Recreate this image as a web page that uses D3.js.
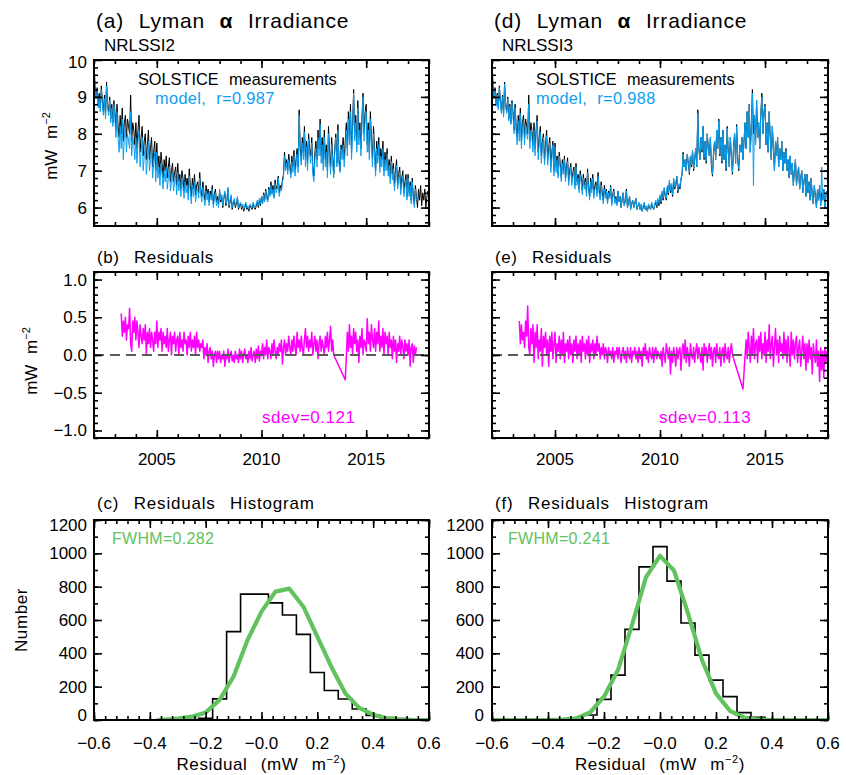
<!DOCTYPE html>
<html>
<head>
<meta charset="utf-8">
<script src="https://cdn.jsdelivr.net/npm/d3@7"></script>
<style>
  html, body { margin: 0; padding: 0; background: #fff; }
  svg { display: block; font-family: "Liberation Sans", Arial, sans-serif; }
</style>
</head>
<body>
<svg id="fig" width="846" height="775"></svg>
<script>
// ---------------- data ----------------
// daily series summarised on a 0.05-year grid; null marks a data gap
const yearStep = 0.05;
const yearStart = 2002.0;

// SOLSTICE Lyman-alpha irradiance (mW m^-2), 2002.00 .. 2018.00
const solstice = [
  9.95, 9.3, 9.0, 9.25, 8.8, 9.1, 8.7, 9.3, 8.9, 8.6, 9.05, 8.5, 9.4, 8.8, 8.6, 9.0, 8.4, 8.8, 8.3, 8.9,
  8.6, 8.1, 8.8, 8.2, 7.9, 8.5, 8.0, 8.7, 7.8, 8.3, 8.5, 7.9, 8.4, 8.2, 8.0, 9.05, 7.8, 8.3, 8.1, 7.7,
  8.3, 7.6, 8.1, 8.5, 7.5, 7.9, 8.2, 7.4, 7.8, 8.0, 7.3, 7.7, 8.1, 7.3, 7.6, 7.9, 7.1, 7.5, 7.8, 7.0,
  7.75, 7.1, 7.4, 6.9, 7.5, 7.2, 6.8, 7.3, 7.0, 7.4, 6.8, 7.1, 7.35, 6.7, 7.0, 7.2, 6.7, 6.95, 7.1, 6.6,
  7.2, 6.7, 6.9, 6.5, 7.0, 6.8, 6.45, 6.9, 6.6, 6.8, 6.4, 7.05, 6.6, 6.3, 6.8, 6.5, 6.9, 6.35, 6.6, 6.7,
  6.4, 6.95, 6.5, 6.3, 6.7, 6.4, 6.2, 6.6, 6.35, 6.5, 6.15, 6.45, 6.3, 6.6, 6.1, 6.35, 6.5, 6.15, 6.3, 6.1,
  6.45, 6.15, 6.3, 6.0, 6.25, 6.4, 6.05, 6.2, 6.5, 6.0, 6.15, 6.3, 5.95, 6.1, 6.2, 6.0, 6.1, 6.25, 5.95, 6.05,
  6.1, 5.95, 6.05, 5.9, 6.0, 6.1, 5.95, 6.0, 5.9, 6.05, 6.0, 5.95, 6.1, 6.0, 5.95, 6.05, 6.15, 6.0, 6.2, 6.05,
  6.3, 6.1, 6.4, 6.2, 6.5, 6.3, 6.2, 6.55, 6.35, 6.7, 6.4, 6.6, 6.3, 6.75, 6.5, 6.6, 6.85, 6.4, 6.6, 6.5,
  6.75, 6.9, 7.5, 7.1, 7.3, 7.0, 7.45, 7.2, 6.9, 7.4, 7.1, 7.55, 7.0, 7.3, 7.6, 7.1, 8.65, 7.6, 7.3, 7.9,
  7.5, 8.2, 7.3, 7.8, 7.2, 8.0, 7.6, 7.4, 7.9, 7.1, 6.85, 7.5, 7.8, 7.3, 8.1, 7.6, 8.4, 7.4, 7.9, 7.2,
  8.1, 7.3, 7.7, 7.0, 8.2, 7.5, 7.1, 7.9, 7.4, 6.9, 7.6, 8.0, 7.2, 8.25, 7.3, 7.0, 7.7, 7.5, 7.9, 7.3,
  7.8, 8.3, 7.6, 8.6, 7.9, 8.8, 7.5, 8.2, 9.2, 8.0, 8.5, 7.7, 8.9, 7.9, 8.3, 7.6, 8.5, 9.1, 8.0, 8.6,
  8.8, 7.7, 8.3, 7.5, 8.6, 7.9, 7.3, 8.2, 7.6, 7.0, 7.8, 7.4, 7.9, 7.1, 7.6, 7.3, 7.8, 7.0, 7.5, 7.2,
  7.6, 7.0, 7.3, 6.8, 7.4, 6.9, 7.2, 6.6, 7.0, 7.3, 6.6, 6.9, 7.1, 6.5, 6.8, 7.0, 6.4, 6.7, 6.9, 6.3,
  6.9, 6.4, 6.7, 6.2, 6.8, 6.3, 6.1, 6.6, 6.3, 6.0, 6.5, 6.2, 6.6, 6.05, 6.4, 6.2, 6.5, 6.0, 6.3, 6.45,
  6.2
];

// NRLSSI2 model, 2002.00 .. 2017.40
const modelNrl2 = [
  9.9, 9.2, 8.95, 9.15, 8.7, 9.0, 8.6, 9.2, 8.8, 8.5, 8.95, 8.4, 9.3, 8.7, 8.5, 8.9, 8.3, 8.7, 8.2, 8.8,
  8.4, 7.9, 8.6, 7.9, 7.5, 8.2, 7.6, 8.4, 7.3, 7.9, 8.2, 7.5, 8.0, 7.8, 7.6, 8.6, 7.4, 7.9, 7.7, 7.3,
  7.9, 7.2, 7.8, 8.1, 7.1, 7.5, 7.9, 7.0, 7.4, 7.7, 6.9, 7.3, 7.8, 7.0, 7.3, 7.6, 6.8, 7.2, 7.5, 6.7,
  7.5, 6.8, 7.1, 6.6, 7.2, 6.9, 6.5, 7.0, 6.7, 7.1, 6.5, 6.8, 7.1, 6.45, 6.7, 6.95, 6.45, 6.7, 6.85, 6.35,
  6.95, 6.45, 6.7, 6.3, 6.8, 6.55, 6.25, 6.7, 6.4, 6.6, 6.2, 6.85, 6.4, 6.1, 6.6, 6.3, 6.7, 6.15, 6.4, 6.5,
  6.25, 6.8, 6.35, 6.15, 6.55, 6.25, 6.05, 6.45, 6.2, 6.4, 6.05, 6.35, 6.2, 6.5, 6.0, 6.25, 6.4, 6.05, 6.2, 6.0,
  6.5, 6.2, 6.35, 6.05, 6.3, 6.45, 6.1, 6.25, 6.55, 6.05, 6.2, 6.35, 6.0, 6.15, 6.25, 6.05, 6.15, 6.3, 6.0, 6.1,
  6.15, 6.0, 6.1, 5.95, 6.05, 6.15, 6.0, 6.05, 5.95, 6.1, 6.05, 6.0, 6.15, 6.05, 6.0, 6.1, 6.2, 6.05, 6.25, 6.1,
  6.3, 6.1, 6.35, 6.15, 6.45, 6.25, 6.15, 6.5, 6.3, 6.6, 6.35, 6.5, 6.25, 6.65, 6.4, 6.5, 6.8, 6.3, 6.5, 6.45,
  6.7, 6.8, 7.4, 7.0, 7.2, 6.9, 7.3, 7.05, 6.8, 7.25, 6.95, 7.4, 6.85, 7.15, 7.45, 6.95, 8.5, 7.4, 7.15, 7.75,
  7.3, 8.05, 7.1, 7.65, 7.0, 7.85, 7.45, 7.2, 7.75, 6.9, 6.7, 7.3, 7.6, 7.1, 7.9, 7.4, 8.25, 7.2, 7.7, 7.0,
  7.9, 7.1, 7.5, 6.8, 8.0, 7.3, 6.9, 7.7, 7.2, 6.8, 7.5, 7.9, 7.1, 8.1, 7.2, 6.95, 7.6, 7.3, 7.7, 7.1,
  7.6, 8.1, 7.4, 8.4, 7.7, 8.6, 7.3, 8.0, 9.1, 7.8, 8.3, 7.5, 8.7, 7.7, 8.1, 7.4, 8.3, 9.0, 7.8, 8.4,
  8.6, 7.5, 8.1, 7.3, 8.4, 7.7, 7.1, 8.0, 7.4, 6.85, 7.6, 7.2, 7.7, 6.95, 7.4, 7.1, 7.6, 6.85, 7.3, 7.0,
  7.45, 6.85, 7.15, 6.65, 7.25, 6.75, 7.05, 6.45, 6.85, 7.15, 6.5, 6.75, 6.95, 6.35, 6.65, 6.85, 6.3, 6.55, 6.75, 6.2,
  6.8, 6.3, 6.6, 6.1, 6.7, 6.2, 6.0, 6.5, 6.2
];

// NRLSSI3 model, 2002.00 .. 2018.00
const modelNrl3 = [
  9.9, 9.25, 8.95, 9.2, 8.75, 9.05, 8.65, 9.25, 8.85, 8.55, 9.0, 8.45, 9.35, 8.75, 8.55, 8.95, 8.35, 8.75, 8.25, 8.85,
  8.5, 8.0, 8.7, 8.05, 7.7, 8.35, 7.8, 8.55, 7.6, 8.1, 8.35, 7.7, 8.25, 8.0, 7.85, 8.8, 7.6, 8.1, 7.95, 7.5,
  8.1, 7.4, 7.95, 8.35, 7.3, 7.75, 8.05, 7.2, 7.65, 7.9, 7.15, 7.55, 7.95, 7.15, 7.45, 7.75, 6.95, 7.35, 7.7, 6.85,
  7.65, 6.95, 7.3, 6.8, 7.4, 7.1, 6.7, 7.2, 6.9, 7.3, 6.7, 7.0, 7.25, 6.6, 6.9, 7.1, 6.6, 6.85, 7.0, 6.5,
  7.1, 6.6, 6.8, 6.4, 6.9, 6.7, 6.35, 6.8, 6.5, 6.7, 6.3, 6.95, 6.5, 6.2, 6.7, 6.4, 6.8, 6.25, 6.5, 6.6,
  6.3, 6.85, 6.4, 6.2, 6.6, 6.3, 6.1, 6.5, 6.25, 6.45, 6.1, 6.4, 6.25, 6.55, 6.05, 6.3, 6.45, 6.1, 6.25, 6.05,
  6.45, 6.15, 6.3, 6.0, 6.25, 6.4, 6.05, 6.2, 6.45, 6.0, 6.15, 6.3, 5.95, 6.1, 6.2, 6.0, 6.1, 6.25, 5.95, 6.05,
  6.15, 5.95, 6.1, 5.9, 6.05, 6.15, 5.95, 6.05, 5.9, 6.1, 6.05, 5.95, 6.15, 6.05, 5.95, 6.1, 6.2, 6.05, 6.25, 6.1,
  6.35, 6.15, 6.45, 6.25, 6.55, 6.35, 6.25, 6.6, 6.4, 6.75, 6.45, 6.65, 6.35, 6.8, 6.55, 6.65, 6.85, 6.45, 6.65, 6.55,
  6.8, 6.9, 7.45, 7.1, 7.3, 7.0, 7.45, 7.2, 6.95, 7.4, 7.15, 7.55, 7.05, 7.3, 7.6, 7.1, 8.55, 7.6, 7.3, 7.9,
  7.55, 8.2, 7.35, 7.8, 7.25, 8.0, 7.6, 7.4, 7.9, 7.15, 6.9, 7.5, 7.8, 7.3, 8.1, 7.6, 8.35, 7.45, 7.9, 7.25,
  8.1, 7.3, 7.7, 7.05, 8.15, 7.5, 7.1, 7.9, 7.4, 6.95, 7.6, 8.0, 7.2, 8.2, 7.3, 7.05, 7.7, 7.5, 7.9, 7.3,
  7.8, 8.3, 7.6, 8.6, 7.9, 8.8, 7.5, 8.2, 9.1, 6.6, 8.5, 7.7, 8.9, 7.9, 8.3, 7.6, 8.5, 9.0, 8.0, 8.6,
  8.75, 7.7, 8.3, 7.5, 8.6, 7.9, 7.3, 8.2, 7.6, 7.0, 7.8, 7.4, 7.9, 7.1, 7.6, 7.3, 7.8, 7.0, 7.5, 7.2,
  7.55, 7.0, 7.3, 6.8, 7.4, 6.9, 7.2, 6.6, 7.0, 7.3, 6.6, 6.9, 7.1, 6.5, 6.8, 7.0, 6.4, 6.7, 6.9, 6.3,
  6.9, 6.4, 6.7, 6.2, 6.8, 6.3, 6.1, 6.6, 6.3, 6.0, 6.5, 6.2, 6.6, 6.05, 7.1, 6.2, 6.5, 6.0, 6.3, 6.45,
  6.15
];

// residuals (measurement - model) on the same grid, starting at residStart
const residStart = 2003.3;
const residNrl2 = [
  0.55, 0.25, 0.45, 0.3, 0.5, 0.2, 0.4, 0.35, 0.62, 0.15, 0.05, 0.45, 0.3, 0.5,
  0.2, 0.45, 0.3, 0.1, 0.4, 0.25, 0.15, 0.35, 0.2, 0.4, 0.0, 0.3, 0.15, 0.35, 0.1, 0.3, 0.2, 0.05, 0.3, 0.15,
  0.45, 0.1, 0.3, 0.2, 0.35, 0.05, 0.3, 0.15, 0.25, 0.1, 0.35, 0.05, 0.2, 0.3, 0.0, 0.25, 0.15, 0.3, 0.05, 0.2,
  0.25, 0.0, 0.3, 0.1, 0.2, 0.05, 0.3, 0.15, 0.2, 0.0, 0.25, 0.1, 0.3, 0.05, 0.2, 0.1, 0.25, 0.0, 0.3, 0.1,
  0.2, 0.05, 0.15, 0.1, 0.2, -0.05, 0.1, 0.0, 0.15, -0.1, 0.05, 0.1, -0.05, 0.05, -0.15, 0.0, 0.05, -0.1, 0.05, -0.05,
  0.05, -0.1, 0.0, -0.05, 0.05, -0.15, 0.0, -0.05, 0.08, -0.1, 0.0, 0.05, -0.08, 0.0, -0.1, 0.05, -0.05, 0.0, -0.1, 0.08,
  -0.05, 0.05, -0.1, 0.0, 0.08, -0.05, 0.0, -0.1, 0.05, -0.05, 0.1, -0.08, 0.0, 0.05, -0.1, 0.08, -0.05, 0.12, -0.08, 0.05,
  0.0, 0.15, -0.05, 0.1, 0.0, 0.2, -0.05, 0.1, 0.05, -0.05, 0.15, 0.0, 0.2, 0.05, -0.05, 0.1, 0.0, 0.15, 0.05, 0.2,
  -0.12, 0.1, 0.2, 0.0, 0.15, 0.05, 0.25, 0.1, 0.0, 0.2, 0.05, 0.25, 0.1, 0.0, 0.3, 0.1, 0.2, 0.05, 0.25, 0.1,
  0.0, 0.2, 0.35, 0.1, 0.25, 0.05, 0.2, 0.1, 0.3, 0.0, 0.15, 0.25, 0.05, 0.2, -0.05, 0.15, 0.25, 0.05, 0.2, 0.1,
  0.0, 0.25, 0.1, 0.3, 0.05, 0.2, 0.38, 0.05, 0.2, 0.0, null, null, null, null, null, null, null, null, null, null,
  -0.33, -0.04, 0.3, 0.05, 0.4, 0.1, 0.25, 0.0, 0.35, 0.15, 0.3, 0.05, 0.2, -0.1, 0.25, 0.1, 0.35, 0.0, 0.2, 0.15,
  0.05, 0.48, 0.15, 0.3, 0.05, 0.4, 0.2, 0.1, 0.35, 0.05, 0.3, 0.15, 0.45, 0.05, 0.25, 0.1, 0.35, 0.0, 0.3, 0.15,
  0.25, 0.0, 0.3, 0.1, 0.2, -0.05, 0.25, 0.05, 0.2, -0.1, 0.15, 0.05, 0.25, 0.0, 0.2, 0.1, -0.05, 0.2, 0.05, 0.15,
  0.0, 0.2, -0.15, 0.1, 0.15, -0.1, 0.12, 0.0, 0.1
];
const residNrl3 = [
  0.45, 0.15, 0.4, 0.2, 0.3, 0.1, 0.45, 0.25, 0.65, 0.1, 0.0, 0.35, 0.15, 0.4,
  -0.1, 0.3, 0.1, 0.4, -0.05, 0.2, 0.05, 0.35, -0.15, 0.25, 0.1, 0.3, 0.0, 0.2, -0.15, 0.25, 0.05, 0.3, -0.05, 0.15,
  0.3, -0.1, 0.15, 0.05, 0.25, -0.05, 0.2, 0.0, 0.3, -0.1, 0.15, 0.05, 0.2, -0.05, 0.25, 0.0, 0.15, -0.1, 0.2, 0.05,
  0.25, -0.05, 0.15, 0.0, 0.2, -0.1, 0.25, 0.05, 0.15, -0.05, 0.2, 0.0, 0.25, -0.1, 0.15, 0.05, 0.2, -0.05, 0.15, 0.0,
  0.25, 0.05, 0.15, -0.05, 0.1, 0.0, 0.15, -0.05, 0.1, 0.05, -0.1, 0.1, 0.0, 0.05, -0.05, 0.1, -0.1, 0.05, 0.0, 0.1,
  -0.05, 0.1, 0.0, -0.1, 0.05, 0.1, -0.05, 0.05, -0.1, 0.1, 0.0, -0.05, 0.1, -0.1, 0.05, 0.0, 0.1, -0.05, 0.05, -0.1,
  0.1, -0.05, 0.05, -0.15, 0.1, 0.0, 0.15, -0.05, 0.05, -0.1, 0.1, 0.0, -0.05, 0.1, -0.1, 0.05, 0.1, -0.05, 0.05, 0.0,
  -0.05, 0.05, -0.15, 0.1, 0.0, -0.1, 0.15, 0.05, -0.05, 0.1, -0.25, 0.05, -0.1, 0.1, 0.0, -0.15, 0.1, -0.05, 0.05, 0.1,
  -0.2, 0.05, 0.15, -0.05, 0.2, -0.1, 0.1, 0.0, -0.15, 0.15, 0.0, -0.05, 0.1, -0.1, 0.05, 0.15, -0.05, 0.1, 0.0, -0.1,
  0.1, -0.2, 0.15, 0.0, 0.1, -0.1, 0.05, 0.15, -0.05, 0.1, -0.15, 0.05, 0.1, -0.1, 0.15, 0.0, -0.05, 0.1, -0.15, 0.05,
  0.1, -0.1, 0.15, 0.0, -0.05, 0.1, -0.1, 0.05, 0.15, 0.0, null, null, null, null, null, null, null, null, null, -0.45,
  null, null, 0.2, -0.05, 0.3, 0.1, -0.1, 0.25, 0.0, 0.35, -0.05, 0.15, 0.2, -0.1, 0.25, 0.05, 0.3, -0.05, 0.15, 0.0,
  0.3, -0.1, 0.2, 0.05, 0.4, -0.05, 0.15, 0.25, -0.15, 0.1, 0.35, 0.0, 0.2, -0.1, 0.25, 0.05, 0.15, -0.05, 0.3, 0.0,
  0.2, -0.1, 0.25, 0.05, -0.15, 0.3, 0.0, 0.2, -0.05, 0.15, 0.25, -0.1, 0.1, 0.2, -0.15, 0.05, 0.25, -0.05, 0.15, -0.2,
  0.15, -0.1, 0.2, -0.05, 0.1, -0.25, 0.15, 0.0, -0.1, 0.2, -0.15, 0.05, -0.35, 0.1, -0.2, 0.05, -0.3, 0.1, -0.1, 0.05,
  0.0
];

// residual histograms (bin width 0.05 mW m^-2)
const binCenters = [-0.30, -0.25, -0.20, -0.15, -0.10, -0.05, 0.00, 0.05, 0.10,
                    0.15, 0.20, 0.25, 0.30, 0.35, 0.40, 0.45, 0.50];
const histNrl2 = [0, 2, 10, 127, 530, 755, 755, 703, 630, 514, 285, 177, 126, 66, 28, 14, 8];
const histNrl3 = [3, 30, 124, 269, 544, 919, 1040, 833, 582, 389, 239, 140, 44, 16, 4, 0, 0];

// Gaussian fits to the histograms
const fitResid2 = [-0.37, -0.30, -0.25, -0.20, -0.15, -0.10, -0.05, 0.00, 0.05, 0.10,
                   0.15, 0.20, 0.25, 0.30, 0.35, 0.40, 0.45, 0.50, 0.55, 0.60];
const fitCount2 = [0, 8, 20, 45, 121, 261, 480, 650, 770, 788,
                   680, 500, 320, 160, 73, 32, 10, 3, 0, 0];
const fitResid3 = [-0.60, -0.50, -0.40, -0.35, -0.30, -0.25, -0.20, -0.15, -0.10, -0.05,
                   0.00, 0.05, 0.10, 0.15, 0.20, 0.25, 0.30, 0.35, 0.40, 0.50, 0.60];
const fitCount3 = [0, 0, 0, 2, 10, 45, 140, 300, 570, 857,
                   985, 897, 640, 360, 160, 55, 15, 3, 0, 0, 0];

// axis ticks and labels
const yearTicks = [2005, 2010, 2015];
const irrTicks = [6, 7, 8, 9, 10];
const residTicks = [-1.0, -0.5, 0.0, 0.5, 1.0];
const residTickLabels = ["\u22121.0", "\u22120.5", "0.0", "0.5", "1.0"];
const countTicks = [0, 200, 400, 600, 800, 1000, 1200];
const residualTicks = [-0.6, -0.4, -0.2, 0.0, 0.2, 0.4, 0.6];
const residualTickLabels = ["\u22120.6", "\u22120.4", "\u22120.2", "\u22120.0", "0.2", "0.4", "0.6"];

// ---------------- drawing ----------------
const svg = d3.select("#fig");
const BLUE = "#0aa0f2", MAGENTA = "#ff00ff", GREEN = "#62c35e", GREY = "#5a5a5a";

const cols = [{x0: 94, x1: 429}, {x0: 492, x1: 828}];
const rowA = {y0: 60, y1: 226}, rowB = {y0: 272, y1: 438}, rowC = {y0: 520, y1: 720};

const stepRange = (a, b, s) => d3.range(Math.round(a / s), Math.round(b / s) + 1).map(k => +(k * s).toFixed(6));

let clipId = 0;
function makePanel(col, row, xDomain, yDomain) {
  const x = d3.scaleLinear().domain(xDomain).range([col.x0, col.x1]);
  const y = d3.scaleLinear().domain(yDomain).range([row.y1, row.y0]);
  const id = "clip" + (clipId++);
  svg.append("clipPath").attr("id", id).append("rect")
    .attr("x", col.x0).attr("y", row.y0)
    .attr("width", col.x1 - col.x0).attr("height", row.y1 - row.y0);
  const g = svg.append("g").attr("clip-path", `url(#${id})`);
  return {x, y, g, col, row};
}

// frame with inward major/minor ticks on all four sides
function drawFrame(p, xMajor, xMinor, yMajor, yMinor) {
  const {x, y, col, row} = p;
  const axes = svg.append("g");
  const add = (axis, tx, ty) => {
    const a = axes.append("g").attr("transform", `translate(${tx},${ty})`).call(axis);
    a.select(".domain").remove();
    a.selectAll("line").attr("stroke", "#000").attr("stroke-width", 1.6);
  };
  [[xMajor, 8], [xMinor, 4]].forEach(([vals, len]) => {
    add(d3.axisBottom(x).tickValues(vals).tickSize(-len).tickFormat(""), 0, row.y1);
    add(d3.axisTop(x).tickValues(vals).tickSize(-len).tickFormat(""), 0, row.y0);
  });
  [[yMajor, 8], [yMinor, 4]].forEach(([vals, len]) => {
    add(d3.axisLeft(y).tickValues(vals).tickSize(-len).tickFormat(""), col.x0, 0);
    add(d3.axisRight(y).tickValues(vals).tickSize(-len).tickFormat(""), col.x1, 0);
  });
  axes.append("rect")
    .attr("x", col.x0).attr("y", row.y0)
    .attr("width", col.x1 - col.x0).attr("height", row.y1 - row.y0)
    .attr("fill", "none").attr("stroke", "#000").attr("stroke-width", 2);
}

function label(txt, x, y, opt = {}) {
  return svg.append("text")
    .attr("x", x).attr("y", y)
    .attr("font-size", opt.size || 17)
    .attr("fill", opt.color || "#000")
    .attr("text-anchor", opt.anchor || "start")
    .style("letter-spacing", (opt.ls || 0) + "px")
    .style("word-spacing", (opt.ws || 0) + "px")
    .text(txt);
}

function yLabels(p, vals, texts, xRight, shifts) {
  vals.forEach((v, i) => {
    label(texts[i], xRight, p.y(v) + 6 + (shifts ? shifts[i] : 0), {anchor: "end"});
  });
}
function xLabels(p, vals, texts, yBase) {
  vals.forEach((v, i) => label(texts[i], p.x(v), yBase, {anchor: "middle"}));
}

// unit text "mW m^-2", optionally wrapped as "Residual (mW m^-2)"
function unitText(sel, prefix, suffix) {
  sel.append("tspan").text(prefix + "mW m");
  sel.append("tspan").attr("font-size", 11).attr("dy", -7).text("\u22122");
  if (suffix) sel.append("tspan").attr("dy", 7).text(suffix);
}

// series on the regular grid -> [year, value] pairs; gaps are bridged by a straight segment
const toPoints = (vals, t0) => vals.map((v, i) => [t0 + i * yearStep, v]).filter(d => d[1] != null);
const seriesPath = (p, vals, t0) => d3.line().x(d => p.x(d[0])).y(d => p.y(d[1]))(toPoints(vals, t0));

const yearMinor = stepRange(2002, 2018, 1);

// ---- (a) / (d): irradiance ----
[[0, modelNrl2, "(a)", "NRLSSI2", "model, r=0.987"],
 [1, modelNrl3, "(d)", "NRLSSI3", "model, r=0.988"]].forEach(([c, model, tag, name, rtxt]) => {
  const p = makePanel(cols[c], rowA, [2002, 2018], [5.5, 10]);
  p.g.append("path").attr("d", seriesPath(p, solstice, yearStart))
    .attr("fill", "none").attr("stroke", "#000").attr("stroke-width", 1).attr("stroke-linejoin", "round");
  p.g.append("path").attr("d", seriesPath(p, model, yearStart))
    .attr("fill", "none").attr("stroke", BLUE).attr("stroke-width", 1).attr("stroke-linejoin", "round");
  drawFrame(p, yearTicks, yearMinor, irrTicks, stepRange(5.6, 9.8, 0.2));
  if (c === 0) yLabels(p, irrTicks, irrTicks.map(String), 87, [0, 0, 0, 0, 2]);

  const x0 = cols[c].x0;
  const title = label("", x0 + 2, 28, {size: 21, ls: 0.8, ws: 8});
  title.append("tspan").text(tag + " Lyman ");
  title.append("tspan").attr("font-weight", "bold").text("\u03b1");
  title.append("tspan").text(" Irradiance");
  label(name, x0 + 10, 51, {size: 17});
  label("SOLSTICE measurements", c === 0 ? 138 : 536, 85, {size: 16.3, ws: 6});
  label(rtxt, c === 0 ? 155 : 536, 104, {size: 16.3, ls: 0.4, ws: 5, color: BLUE});
});

// ---- (b) / (e): residuals ----
[[0, residNrl2, "(b)", "sdev=0.121", 262],
 [1, residNrl3, "(e)", "sdev=0.113", 659]].forEach(([c, resid, tag, sd, sdx]) => {
  const p = makePanel(cols[c], rowB, [2002, 2018], [-1.1, 1.1]);
  p.g.append("path").attr("d", seriesPath(p, resid, residStart))
    .attr("fill", "none").attr("stroke", MAGENTA).attr("stroke-width", 1.5).attr("stroke-linejoin", "round");
  p.g.append("line")
    .attr("x1", p.x(2002)).attr("x2", p.x(2018)).attr("y1", p.y(0)).attr("y2", p.y(0))
    .attr("stroke", GREY).attr("stroke-width", 2.2).attr("stroke-dasharray", "10,6");
  drawFrame(p, yearTicks, yearMinor, residTicks, stepRange(-1.1, 1.1, 0.1));
  if (c === 0) yLabels(p, residTicks, residTickLabels, 87);
  xLabels(p, yearTicks, yearTicks.map(String), 465);
  label(tag + " Residuals", cols[c].x0 + 3, 263, {size: 17, ls: 0.6, ws: 9});
  label(sd, sdx, 423, {size: 17, ls: 0.5, color: MAGENTA});
});

// ---- (c) / (f): residual histograms ----
[[0, histNrl2, fitResid2, fitCount2, "(c)", "FWHM=0.282"],
 [1, histNrl3, fitResid3, fitCount3, "(f)", "FWHM=0.241"]].forEach(([c, counts, fx, fy, tag, fw]) => {
  const p = makePanel(cols[c], rowC, [-0.6, 0.6], [0, 1200]);
  const half = 0.025;
  const steps = [[binCenters[0] - half, 0]];
  binCenters.forEach((b, i) => { steps.push([b - half, counts[i]], [b + half, counts[i]]); });
  steps.push([binCenters[binCenters.length - 1] + half, 0]);
  p.g.append("path")
    .attr("d", d3.line().x(d => p.x(d[0])).y(d => p.y(d[1]))(steps))
    .attr("fill", "none").attr("stroke", "#000").attr("stroke-width", 1.6);
  p.g.append("path")
    .attr("d", d3.line().x((d, i) => p.x(fx[i])).y(d => p.y(d))(fy))
    .attr("fill", "none").attr("stroke", GREEN).attr("stroke-width", 4.2)
    .attr("stroke-linejoin", "round").attr("stroke-linecap", "round");
  drawFrame(p, residualTicks, stepRange(-0.6, 0.6, 0.04), countTicks, stepRange(0, 1200, 100));
  yLabels(p, countTicks, countTicks.map(String), c === 0 ? 87 : 484, [-5, 0, 0, 0, 0, 0, 5]);
  xLabels(p, residualTicks, residualTickLabels, 749);
  label(tag + " Residuals Histogram", cols[c].x0 + 3, 509, {size: 17, ls: 0.8, ws: 9});
  label(fw, c === 0 ? 112 : 508, 544, {size: 16, ls: 0.3, color: GREEN});
  const xt = label("", (cols[c].x0 + cols[c].x1) / 2, 770, {size: 17, anchor: "middle", ls: 0.6, ws: 8});
  unitText(xt, "Residual (", ")");
});

// ---- y-axis titles ----
[[57, 146], [37, 361]].forEach(([bx, cy]) => {
  const t = svg.append("text").attr("font-size", 17).attr("text-anchor", "middle")
    .style("word-spacing", "6px")
    .attr("transform", `translate(${bx},${cy}) rotate(-90)`);
  unitText(t, "", "");
});
svg.append("text").attr("font-size", 17).attr("text-anchor", "middle")
  .style("letter-spacing", "0.6px")
  .attr("transform", "translate(27,620) rotate(-90)").text("Number");
</script>
</body>
</html>
